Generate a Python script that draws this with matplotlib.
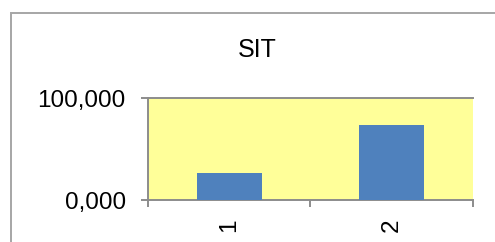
#!/usr/bin/env python3

import matplotlib
matplotlib.use("Agg")
import matplotlib.pyplot as plt
from matplotlib.patches import Rectangle
from matplotlib.ticker import FuncFormatter

plt.rcParams["font.family"] = ["Liberation Sans", "DejaVu Sans"]

categories = ["1", "2"]
values = [26.5, 73.5]
y_ticks = [0, 100]

GRAY = "#8C8C8C"


def main():
    fig = plt.figure(figsize=(4.95, 2.42), dpi=100)

    # outer chart border (runs off the right and bottom edges)
    fig.patches.append(Rectangle((11 / 495, -0.1), 1.2, (229 / 242) + 0.1,
                                 transform=fig.transFigure, fill=False,
                                 edgecolor="#A6A6A6", linewidth=1.4))

    ax = fig.add_axes([148 / 495, 42 / 242, 325 / 495, 102 / 242])
    ax.set_facecolor("#FFFF99")

    x = list(range(1, len(categories) + 1))
    ax.bar(x, values, width=0.4, color="#4F81BD", zorder=3)

    ax.set_xlim(0.5, len(categories) + 0.5)
    ax.set_ylim(0, 100)

    ax.axhline(100, color=GRAY, linewidth=1.4, zorder=2, clip_on=False)
    for side in ["top", "right"]:
        ax.spines[side].set_visible(False)
    for side in ["left", "bottom"]:
        ax.spines[side].set_color(GRAY)
        ax.spines[side].set_linewidth(1.4)

    ax.set_yticks(y_ticks)
    ax.yaxis.set_major_formatter(FuncFormatter(lambda v, p: f"{v:.3f}".replace(".", ",")))
    ax.tick_params(axis="y", length=5, width=1.4, color=GRAY, pad=11, labelsize=17.5)

    ax.set_xticks(x)
    ax.set_xticklabels(categories, rotation=90)
    ax.set_xticks([i + 0.5 for i in range(len(categories) + 1)], minor=True)
    ax.tick_params(axis="x", which="major", length=0, pad=13, labelsize=17.5)
    ax.tick_params(axis="x", which="minor", length=5, width=1.4, color=GRAY)

    fig.text(257 / 495, 1 - 50 / 242, "SIT", ha="center", va="center", fontsize=18)

    fig.savefig("out.png", dpi=100)


if __name__ == "__main__":
    main()
